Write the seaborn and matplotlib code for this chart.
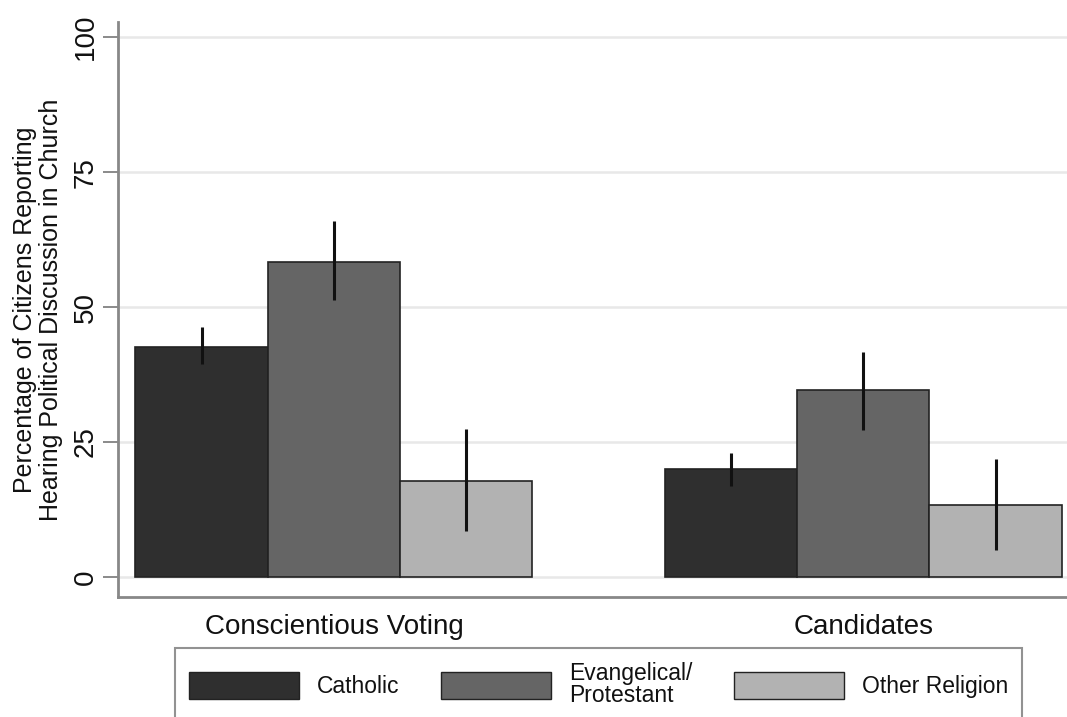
import matplotlib
matplotlib.use("Agg")
import matplotlib.pyplot as plt
import seaborn as sns
import pandas as pd
from matplotlib.patches import Patch

# ---- data ----
topics = ["Conscientious Voting", "Candidates"]
religions = ["Catholic", "Evangelical/\nProtestant", "Other Religion"]
catholic = [42.6, 20.0]
evangelical = [58.3, 34.6]
other = [17.8, 13.3]
catholic_lo = [39.4, 16.9]
catholic_hi = [46.3, 23.0]
evangelical_lo = [51.3, 27.2]
evangelical_hi = [65.9, 41.7]
other_lo = [8.5, 5.0]
other_hi = [27.4, 21.9]
yticks = [0, 25, 50, 75, 100]

colors = ["#2f2f2f", "#656565", "#b2b2b2"]

rows = []
for rel, vals, lo, hi in zip(religions, [catholic, evangelical, other],
                             [catholic_lo, evangelical_lo, other_lo],
                             [catholic_hi, evangelical_hi, other_hi]):
    for t, v, l, h in zip(topics, vals, lo, hi):
        rows.append({"Topic": t, "Religion": rel, "Value": v, "lo": l, "hi": h})
df = pd.DataFrame(rows)

sns.set_style("white")
plt.rcParams["font.family"] = ["Liberation Sans", "DejaVu Sans"]

fig = plt.figure(figsize=(10.67, 7.17), dpi=100)
ax = fig.add_axes([118 / 1067, 1 - 597 / 717, 1 - 118 / 1067, (597 - 22) / 717])

sns.barplot(data=df, x="Topic", y="Value", hue="Religion", order=topics,
            hue_order=religions, palette=colors, errorbar=None, width=0.75,
            edgecolor="#222222", linewidth=1.2, saturation=1, ax=ax, zorder=2)

# error bars
for cont, rel in zip(ax.containers, religions):
    sub = df[df["Religion"] == rel].set_index("Topic").loc[topics]
    xs = [p.get_x() + p.get_width() / 2 for p in cont.patches]
    ax.vlines(xs, sub["lo"].values, sub["hi"].values, color="#111111",
              linewidth=2.2, zorder=3)

ax.set_xlim(-0.408, 1.385)
ax.set_ylim(-3.7, 102.8)
ax.set_yticks(yticks)
ax.set_yticklabels([str(v) for v in yticks], rotation=90, va="center",
                   fontsize=20, color="#111111")
ax.tick_params(axis="y", direction="out", length=11, width=1.2,
               color="#777777", pad=3, left=True)
ax.tick_params(axis="x", length=0, pad=12, labelsize=20, labelcolor="#111111")

ax.grid(axis="y", color="#e8e8e8", linewidth=1.8, zorder=0)
ax.set_axisbelow(True)
ax.set_xlabel("")
ax.set_ylabel("Percentage of Citizens Reporting\nHearing Political Discussion in Church",
              fontsize=18, color="#111111", labelpad=7, linespacing=1.1)

for s in ["top", "right"]:
    ax.spines[s].set_visible(False)
for s in ["left", "bottom"]:
    ax.spines[s].set_color("#888888")
    ax.spines[s].set_linewidth(2)

ax.get_legend().remove()
handles = [Patch(facecolor=c, edgecolor="#222222", linewidth=1.0) for c in colors]
leg = fig.legend(handles, religions, loc="upper left", ncol=3,
                 bbox_to_anchor=(175 / 1067, 1 - 648 / 717),
                 frameon=True, fancybox=False, fontsize=16.5,
                 handlelength=4.8, handleheight=1.45, handletextpad=0.8,
                 borderpad=0.6, borderaxespad=0, columnspacing=1.8)
leg.get_frame().set_edgecolor("#777777")
leg.get_frame().set_linewidth(1.5)
for t in leg.get_texts():
    t.set_linespacing(0.95)
    t.set_color("#111111")

fig.savefig("out.png", dpi=100)
